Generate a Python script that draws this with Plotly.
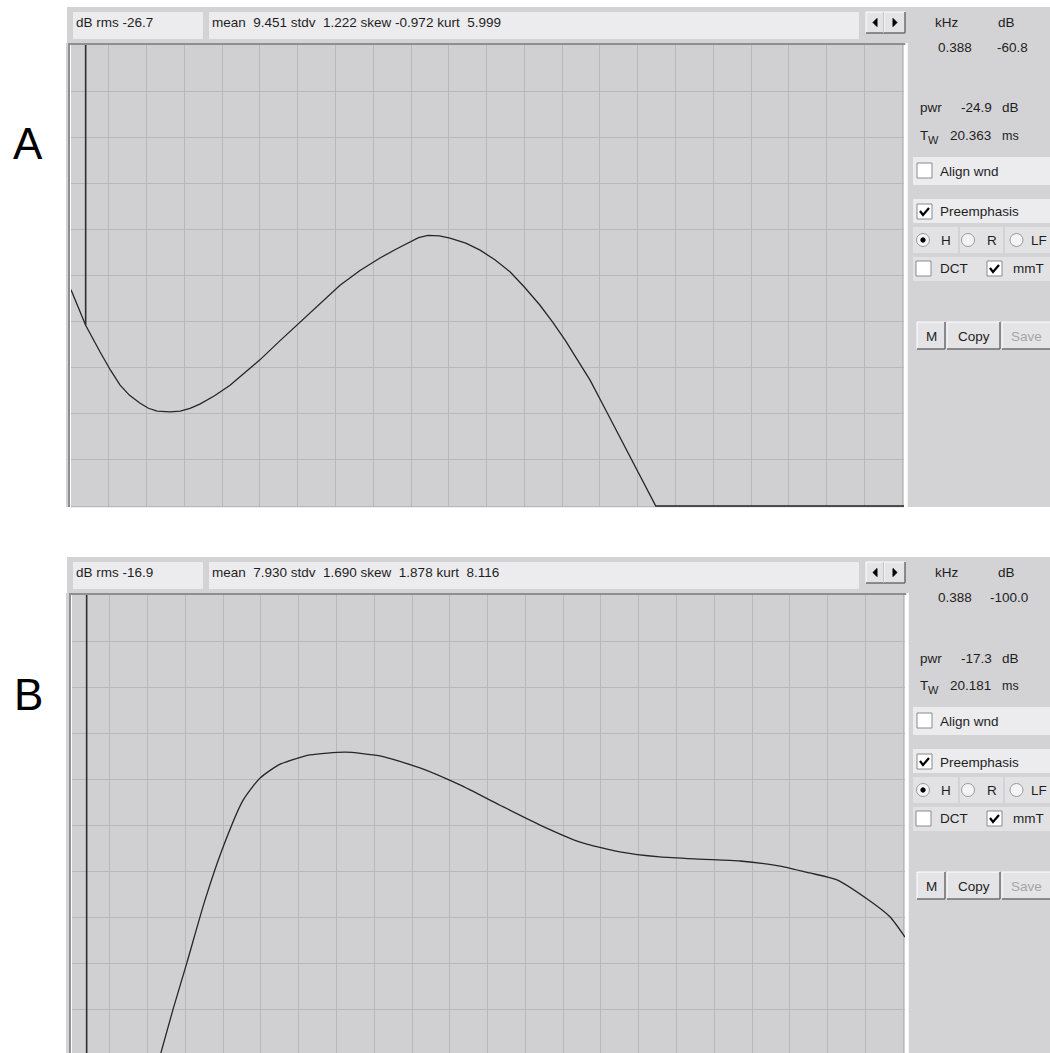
import plotly.graph_objects as go

# ---------------- data ----------------
# Panel A spectrum (kHz, dB)
A_freq = [0.0, 0.388, 0.77, 1.05, 1.30, 1.55, 1.83, 2.05, 2.28, 2.62, 2.89, 3.15, 3.41, 3.80, 4.21, 4.60, 5.00, 5.50, 6.06, 6.60, 7.12, 7.65,
          8.18, 8.60, 8.97, 9.20, 9.45, 9.75, 10.03, 10.45, 10.83, 11.22, 11.62, 12.00, 12.41, 12.75, 13.08, 13.40, 13.74, 14.13, 14.50, 14.88, 15.20, 15.48, 22.05]
A_db = [-53.1, -60.8, -66.6, -70.6, -73.8, -76.0, -77.7, -78.8, -79.4, -79.6, -79.4, -78.8, -77.9, -76.1, -73.8, -71.1, -68.3, -64.4, -60.1, -56.0, -52.1, -48.9,
        -46.2, -44.3, -42.8, -41.8, -41.3, -41.4, -41.9, -43.0, -44.5, -46.6, -49.2, -52.5, -56.4, -60.1, -64.0, -68.3, -72.7, -78.8, -84.7, -90.6, -95.6, -100.0, -100.0]
A_cursor_khz = 0.388
A_cursor_db = -60.8

# Panel B spectrum (kHz, dB)
B_freq = [2.33, 2.67, 3.04, 3.52, 3.97, 4.53, 4.98, 5.51, 6.30, 7.23, 8.15, 9.21, 10.27, 11.33, 12.39, 13.45, 14.50,
          15.56, 16.62, 17.68, 18.74, 19.53, 20.25, 21.04, 21.65, 22.05]
B_db = [-100.0, -90.0, -79.8, -66.2, -55.3, -44.5, -39.7, -36.7, -34.7, -34.1, -34.9, -37.5, -41.2, -45.6, -49.9, -53.6, -55.7,
        -56.8, -57.3, -57.7, -58.8, -60.3, -61.8, -65.9, -69.8, -74.2]
B_cursor_khz = 0.388
B_cursor_db = -100.0

panel_labels = ["A", "B"]
stats_rms = ["dB rms -26.7", "dB rms -16.9"]
stats_moments = ["mean\u00a0 9.451 stdv\u00a0 1.222 skew -0.972 kurt\u00a0 5.999",
                 "mean\u00a0 7.930 stdv\u00a0 1.690 skew\u00a0 1.878 kurt\u00a0 8.116"]
cursor_khz_txt = ["0.388", "0.388"]
cursor_db_txt = ["-60.8", "-100.0"]
pwr_txt = ["-24.9", "-17.3"]
tw_txt = ["20.363", "20.181"]

# ---------------- geometry helpers ----------------
W, H = 1050, 1053
PX_PER_DB = 4.61
GUI = "Liberation Sans, Arial, sans-serif"
FS = 13.5


def X(px):
    return px / W


def Y(py):
    return 1 - py / H


shapes = []
annos = []


def rect(x0, y0, x1, y1, fill, line=None, lw=0):
    shapes.append(dict(type="rect", xref="paper", yref="paper", x0=X(x0), x1=X(x1), y0=Y(y1), y1=Y(y0),
                       fillcolor=fill, line=dict(color=line or fill, width=lw), layer="above"))


def seg(x0, y0, x1, y1, color, w=1):
    shapes.append(dict(type="line", xref="paper", yref="paper", x0=X(x0), x1=X(x1), y0=Y(y0), y1=Y(y1),
                       line=dict(color=color, width=w), layer="above"))


def path(pts, fill=None, color="#000", w=1, closed=False):
    d = "M " + " L ".join(f"{X(a):.5f},{Y(b):.5f}" for a, b in pts) + (" Z" if closed else "")
    shapes.append(dict(type="path", xref="paper", yref="paper", path=d,
                       fillcolor=fill if fill else "rgba(0,0,0,0)", line=dict(color=color, width=w), layer="above"))


def circle(cx, cy, r, fill, line, lw=1):
    shapes.append(dict(type="circle", xref="paper", yref="paper", x0=X(cx - r), x1=X(cx + r), y0=Y(cy + r), y1=Y(cy - r),
                       fillcolor=fill, line=dict(color=line, width=lw), layer="above"))


def text(x, y, s, size=FS, color="#1E1E1E", anchor="left", family=GUI):
    annos.append(dict(xref="paper", yref="paper", x=X(x), y=Y(y), text=s, showarrow=False, xanchor=anchor,
                      yanchor="middle", font=dict(family=family, size=size, color=color)))


def button(x0, y0, x1, y1):
    rect(x0, y0, x1, y1, "#E4E4E6")
    seg(x0, y0, x1, y0, "#FFFFFF", 1)
    seg(x0, y0, x0, y1, "#FFFFFF", 1)
    seg(x0, y1, x1, y1, "#6E6E70", 1.5)
    seg(x1, y0, x1, y1, "#6E6E70", 1.5)


def checkbox(x0, y0, checked):
    rect(x0, y0, x0 + 15, y0 + 15, "#FFFFFF", "#8A8A8C", 1)
    if checked:
        path([(x0 + 3, y0 + 7), (x0 + 6, y0 + 11), (x0 + 12, y0 + 4)], color="#000000", w=2.2)


WIN = "#D3D3D6"
BOX = "#ECECEE"
PLOT_BG = "#D0D0D3"
GRID = "#B8B8BB"


def gui_panel(i, off, bottom, dx):
    # window background pieces (outside the plot area)
    rect(67, 7 + off, 1050, 43 + off, WIN)
    rect(906 + dx, 43 + off, 1050, bottom, WIN)
    rect(66, 43 + off, 69 + dx, bottom, WIN)
    # stats boxes
    rect(73, 12 + off, 203, 39 + off, BOX)
    rect(209, 12 + off, 859, 39 + off, BOX)
    text(74, 22.5 + off, stats_rms[i])
    text(210, 22.5 + off, stats_moments[i])
    # plot sunken frame
    seg(68 + dx, 44 + off, 906 + dx, 44 + off, "#8E8E91", 2)
    seg(69 + dx, 43 + off, 69 + dx, bottom, "#8E8E91", 2)
    seg(906.5 + dx, 43 + off, 906.5 + dx, bottom, "#FFFFFF", 2.5)
    # scroll arrows
    button(866, 12 + off, 884, 33 + off)
    button(884, 12 + off, 905, 33 + off)
    path([(877, 18.5 + off), (877, 26.5 + off), (873, 22.5 + off)], fill="#000", color="#000", w=1, closed=True)
    path([(893, 18.5 + off), (893, 26.5 + off), (897, 22.5 + off)], fill="#000", color="#000", w=1, closed=True)
    # readouts
    text(946, 22.5 + off, "kHz", anchor="center")
    text(1006, 22.5 + off, "dB", anchor="center")
    text(974, 47 + off, cursor_khz_txt[i], anchor="right")
    text(1030, 47 + off, cursor_db_txt[i], anchor="right")
    text(918, 108 + off, "pwr", anchor="left")
    text(994, 108 + off, pwr_txt[i], anchor="right")
    text(1000, 108 + off, "dB", anchor="left")
    text(918, 135 + off, "T", anchor="left")
    text(926, 140 + off, "W", size=11, anchor="left")
    text(993, 135 + off, tw_txt[i], anchor="right")
    text(1000, 136 + off, "ms", size=12.5, anchor="left")
    # Align wnd
    rect(913, 157 + off, 1050, 185 + off, BOX)
    checkbox(917, 163 + off, False)
    text(938, 171.5 + off, "Align wnd")
    # Preemphasis
    rect(913, 199 + off, 1050, 223 + off, BOX)
    checkbox(917, 204 + off, True)
    text(938, 212 + off, "Preemphasis")
    # radio row
    rect(913, 227 + off, 958, 253 + off, "#E2E2E4")
    rect(960, 227 + off, 1003, 253 + off, "#E2E2E4")
    rect(1005, 227 + off, 1050, 253 + off, "#E2E2E4")
    for cx in (923, 968, 1016.5):
        circle(cx, 240 + off, 6.5, "#F4F4F6", "#9A9A9C", 1)
    circle(923, 240 + off, 2.2, "#000000", "#000000", 1)
    text(939, 240.5 + off, "H")
    text(985, 240.5 + off, "R")
    text(1029, 240.5 + off, "LF")
    # DCT / mmT row
    rect(913, 257 + off, 1050, 281 + off, "#E2E2E4")
    checkbox(916, 261 + off, False)
    text(938, 268.5 + off, "DCT")
    checkbox(987, 261 + off, True)
    text(1011, 268.5 + off, "mmT")
    # buttons
    button(917, 322 + off, 945, 349 + off)
    button(947, 322 + off, 1000, 349 + off)
    button(1002, 322 + off, 1052, 349 + off)
    text(931, 336 + off, "M", anchor="center")
    text(973.5, 336 + off, "Copy", anchor="center")
    text(1026, 336 + off, "Save", anchor="center", color="#A4A4A6")
    # panel letter
    text(28, 144 + off, panel_labels[i], size=44, color="#000000", anchor="center",
         family="Liberation Sans, Arial, sans-serif")


gui_panel(0, 0, 507, 0)
gui_panel(1, 550, 1053, 1)

# ---------------- figure ----------------
fig = go.Figure()
line_col = "#262626"

fig.add_trace(go.Scatter(x=A_freq, y=A_db, mode="lines", line=dict(color=line_col, width=1.3),
                         xaxis="x", yaxis="y", hoverinfo="skip"))
fig.add_trace(go.Scatter(x=[A_cursor_khz, A_cursor_khz], y=[0, A_cursor_db], mode="lines",
                         line=dict(color="#2E2E2E", width=1.6), xaxis="x", yaxis="y", hoverinfo="skip"))
fig.add_trace(go.Scatter(x=B_freq, y=B_db, mode="lines", line=dict(color=line_col, width=1.3, shape="spline", smoothing=0.6),
                         xaxis="x2", yaxis="y2", hoverinfo="skip"))
fig.add_trace(go.Scatter(x=[B_cursor_khz, B_cursor_khz], y=[0, B_cursor_db], mode="lines",
                         line=dict(color="#2E2E2E", width=1.6), xaxis="x2", yaxis="y2", hoverinfo="skip"))

ax_common = dict(showgrid=True, gridcolor=GRID, gridwidth=1.3, zeroline=False, showticklabels=False,
                 ticks="", showline=False, fixedrange=True)
A_top, A_bot_db = 45, -100.3
B_top = 595
B_bot_db = -(H - B_top) / PX_PER_DB

fig.update_layout(
    width=W, height=H, margin=dict(l=0, r=0, t=0, b=0), paper_bgcolor="#FFFFFF", plot_bgcolor=PLOT_BG,
    showlegend=False,
    xaxis=dict(domain=[X(71), X(904)], range=[0, 22.05], dtick=1, tick0=0, anchor="y", **ax_common),
    yaxis=dict(domain=[Y(A_top - A_bot_db * PX_PER_DB), Y(A_top)], range=[A_bot_db, 0], dtick=10, tick0=0,
               anchor="x", **ax_common),
    xaxis2=dict(domain=[X(72), X(905)], range=[0, 22.05], dtick=1, tick0=0, anchor="y2", **ax_common),
    yaxis2=dict(domain=[0, Y(B_top)], range=[B_bot_db, 0], dtick=10, tick0=0, anchor="x2", **ax_common),
    shapes=shapes, annotations=annos,
)

# remove the default 8px page margin so the figure fills the window exactly
fig.write_html("out.html", config={"displayModeBar": False},
               post_script="document.documentElement.style.margin='0';document.body.style.margin='0';")
